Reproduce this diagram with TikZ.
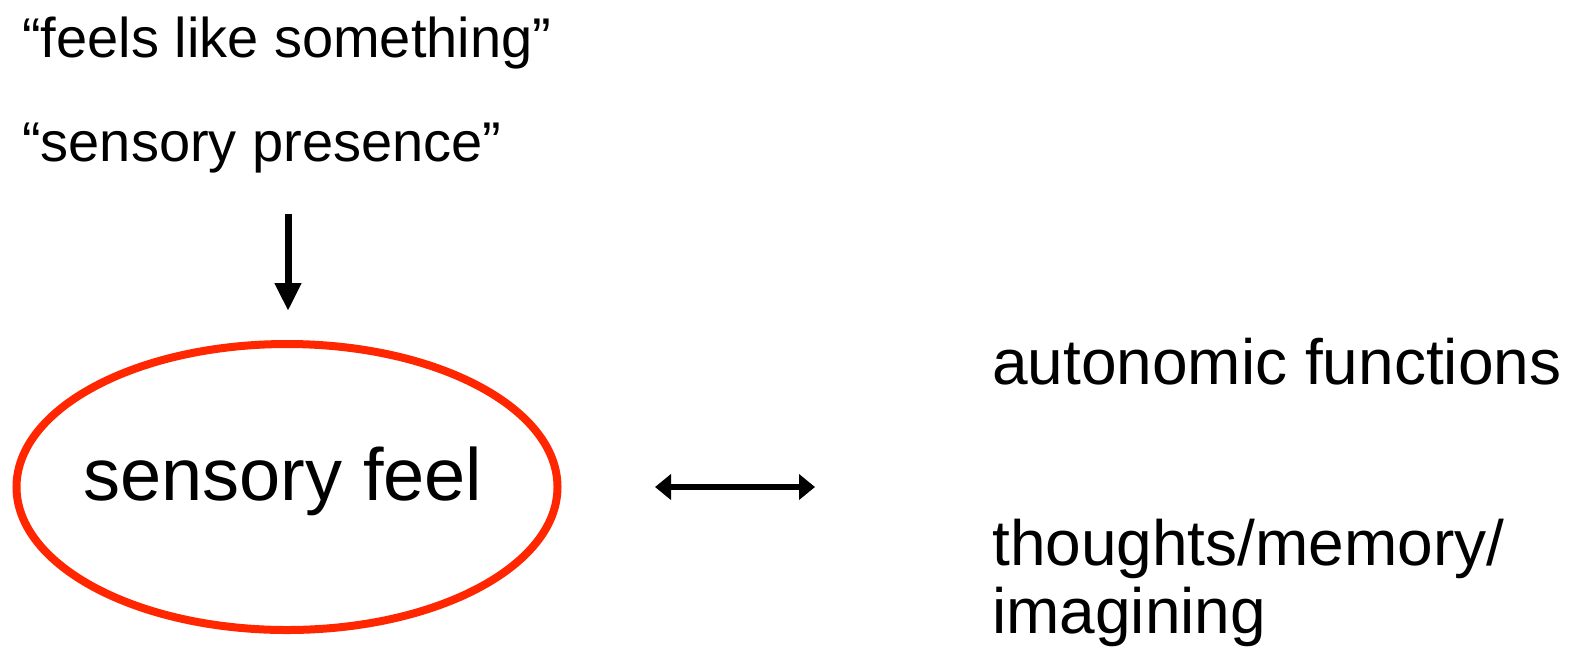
\documentclass[tikz,border=0pt]{standalone}
\usepackage{fontspec}
\setmainfont{Liberation Sans}
\usetikzlibrary{shapes.geometric,arrows.meta}
\definecolor{ellred}{HTML}{FF2600}
\begin{document}
\begin{tikzpicture}[x=1pt,y=-1pt,
  lbl/.style={inner sep=0pt,anchor=base west,font=\fontsize{56}{67}\selectfont},
  rlbl/.style={inner sep=0pt,anchor=base west,font=\fontsize{64}{68}\selectfont},
  arr/.style={line width=7pt,-{Triangle[width=25pt,length=28pt]}},
  darr/.style={line width=5.5pt,{Triangle[width=25pt,length=16pt]}-{Triangle[width=25pt,length=16pt]}}]
\useasboundingbox (0,0) rectangle (1579,649);
\node[lbl] (feels) at (22,57) {“feels like something”};
\node[lbl] (pres) at (22,161) {“sensory presence”};
\node[draw=ellred,line width=8pt,ellipse,minimum width=541pt,minimum height=286pt,inner sep=0pt] (ell) at (287,487) {};
\node[inner sep=0pt,anchor=base,font=\fontsize{74}{80}\selectfont] (sf) at (283,500) {sensory feel};
\coordinate (a1) at (288,214);
\coordinate (a2) at (288,311);
\draw[arr] (a1) -- (a2);
\coordinate (b1) at (655,487);
\coordinate (b2) at (815,487);
\draw[darr] (b1) -- (b2);
\node[rlbl] (auto) at (992,384) {autonomic functions};
\node[rlbl] (thou) at (992,565) {thoughts/memory/};
\node[rlbl] (imag) at (992,633) {imagining};
\end{tikzpicture}
\end{document}
